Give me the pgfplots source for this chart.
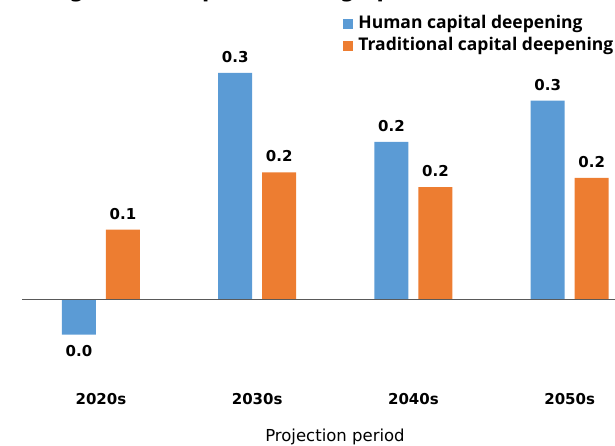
\documentclass[border=0pt]{standalone}
\usepackage{fontspec}
\setmainfont{DejaVu Sans}
\newfontfamily\legfont{Open Sans}
\usepackage{pgfplots}
\usepackage{pgfplotstable}
\pgfplotsset{compat=1.18}
\definecolor{cblue}{HTML}{5B9BD5}
\definecolor{corange}{HTML}{ED7D31}
\definecolor{axgray}{HTML}{595959}

\pgfplotstableread{
x y lab
0 -0.049 0.0
1 0.320 0.3
2 0.223 0.2
3 0.281 0.3
}\human
\pgfplotstableread{
x y lab
0 0.099 0.1
1 0.180 0.2
2 0.159 0.2
3 0.172 0.2
}\traditional

\begin{document}
\begin{tikzpicture}
\useasboundingbox (-22pt,-68pt) rectangle (593pt,378pt);
\begin{axis}[
  at={(0pt,0pt)}, anchor=south west,
  width=593pt, height=376pt, scale only axis,
  ybar=10pt, bar width=34pt,
  xmin=-0.505, xmax=3.29, ymin=-0.11, ymax=0.42,
  axis line style={draw=none},
  ytick=\empty,
  xtick={0,1,2,3},
  xticklabels={2020s,2030s,2040s,2050s},
  major tick length=0pt,
  xticklabel style={font=\fontsize{15}{18}\selectfont\bfseries, anchor=base, yshift=-27pt},
  nodes near coords,
  point meta=explicit symbolic,
  visualization depends on={y \as \rawy},
  every node near coord/.append style={font=\fontsize{15}{18}\selectfont\bfseries, inner sep=0pt, inner ysep=10pt, text=black,
    /utils/exec={\pgfmathparse{\rawy<0}\ifnum\pgfmathresult=1 \def\anc{north}\else\def\anc{south}\fi},
    anchor=\anc},
  legend image code/.code={\path[#1] (0pt,-5pt) rectangle (10pt,5pt);},
  legend style={draw=none, fill=none, inner sep=0pt, at={(0.5416,0.970)}, anchor=north west,
    font=\legfont\fontsize{17.5}{17.5}\selectfont\bfseries,
    column sep=0pt,
    nodes={text height=12.5pt, text depth=5pt, inner ysep=2.25pt, inner xsep=5pt}},
  legend cell align=left,
  clip=false,
]
\addplot[fill=cblue, draw=none] table[x=x, y=y, meta=lab] {\human};
\addplot[fill=corange, draw=none] table[x=x, y=y, meta=lab] {\traditional};
\legend{Human capital deepening, Traditional capital deepening}
\draw[axgray, line width=1pt] (axis cs:-0.505,0) -- (axis cs:3.29,0);
\end{axis}
\node[anchor=base, font=\fontsize{16.5}{20}\selectfont] at (313pt,-64pt) {Projection period};
\node[overlay, anchor=base east, font=\fontsize{21}{25}\selectfont\bfseries] at (135pt,380.5pt) {Contribution to growth};
\node[overlay, anchor=base west, inner sep=0pt, font=\fontsize{21}{25}\selectfont\bfseries] at (142pt,380.5pt) {(\% points change per hour)};
\end{tikzpicture}
\end{document}
